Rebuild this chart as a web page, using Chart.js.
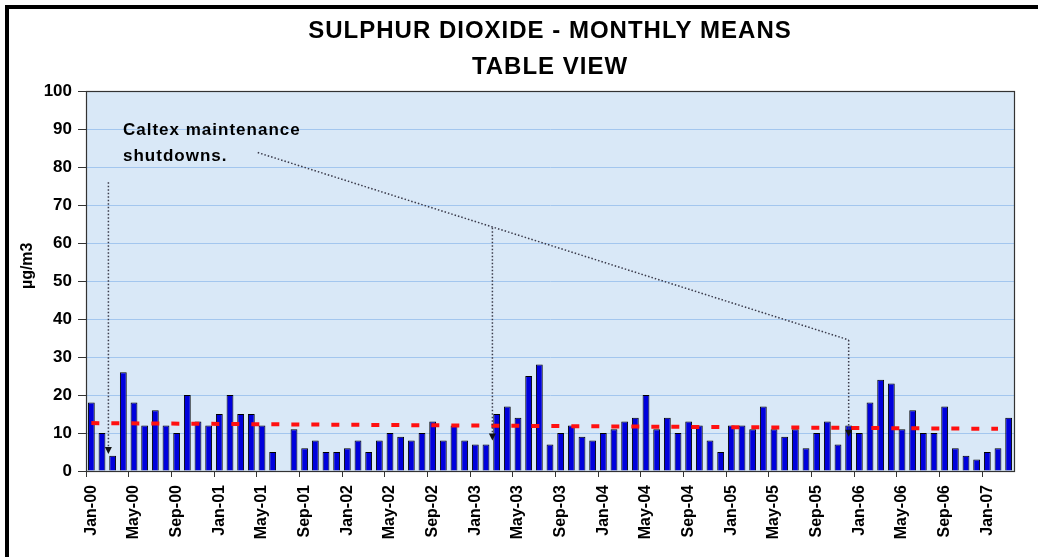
<!DOCTYPE html>
<html>
<head>
<meta charset="utf-8">
<script src="https://cdn.jsdelivr.net/npm/chart.js@4.4.1/dist/chart.umd.min.js"></script>
<style>
    html, body { margin: 0; padding: 0; background: #fff; }
</style>
</head>
<body>
<canvas id="myChart" width="1038" height="557"></canvas>
<script>

const months = ['Jan', 'Feb', 'Mar', 'Apr', 'May', 'Jun', 'Jul', 'Aug', 'Sep', 'Oct', 'Nov', 'Dec'];
const years = ['00', '01', '02', '03', '04', '05', '06', '07'];
const lastLabel = 'Mar-07';

const labels = [];
for (const y of years) {
    for (const m of months) {
        if (labels[labels.length - 1] === lastLabel) break;
        labels.push(m + '-' + y);
    }
}

// monthly means, ug/m3 (Jul-01 missing)
const so2 = [
    18, 10, 4, 26, 18, 12, 16, 12, 10, 20, 13, 12,
    15, 20, 15, 15, 12, 5, null, 11, 6, 8, 5, 5,
    6, 8, 5, 8, 10, 9, 8, 10, 13, 8, 12, 8,
    7, 7, 15, 17, 14, 25, 28, 7, 10, 12, 9, 8,
    10, 11, 13, 14, 20, 11, 14, 10, 13, 12, 8, 5,
    12, 12, 11, 17, 11, 9, 11, 6, 10, 13, 7, 12,
    10, 18, 24, 23, 11, 16, 10, 10, 17, 6, 4, 3,
    5, 6, 14
];

// red dashed mean line
const meanLine = [
    { x: 'Jan-00', y: 12.6 },
    { x: 'Feb-07', y: 11.1 },
];

const yTicks = [0, 10, 20, 30, 40, 50, 60, 70, 80, 90, 100];

// "Caltex maintenance shutdowns." arrows: category position, start value, tip value
const shutdowns = [
    { x: 1.6, top: 76, tip: 4.5 },
    { x: 37.6, top: 64, tip: 8 },
    { x: 71.0, top: 34.5, tip: 9 },
];
const leader = [{ x: 15.6, y: 83.8 }, { x: 71.0, y: 34.5 }];

const titleLines = ['SULPHUR DIOXIDE - MONTHLY MEANS', 'TABLE VIEW'];
const noteLines = ['Caltex maintenance', 'shutdowns.'];

const FONT = "'Liberation Sans', Arial, sans-serif";

const decor = {
    id: 'decor',
    beforeDraw(chart) {
        const { ctx, chartArea: a } = chart;
        ctx.save();
        ctx.fillStyle = '#fff';
        ctx.fillRect(0, 0, chart.width, chart.height);
        ctx.fillStyle = '#d9e8f7';
        ctx.fillRect(a.left, a.top, a.right - a.left, a.bottom - a.top);
        ctx.restore();
    },
    afterDatasetsDraw(chart) {
        const { ctx, chartArea: a, scales } = chart;
        const xs = scales.x, ys = scales.y;
        ctx.save();

        // dotted leader + arrows
        ctx.strokeStyle = '#3a3a4a';
        ctx.lineWidth = 1.5;
        ctx.setLineDash([1.5, 2]);
        ctx.beginPath();
        ctx.moveTo(xs.getPixelForValue(leader[0].x), ys.getPixelForValue(leader[0].y));
        ctx.lineTo(xs.getPixelForValue(leader[1].x), ys.getPixelForValue(leader[1].y));
        shutdowns.forEach(s => {
            const px = xs.getPixelForValue(s.x);
            ctx.moveTo(px, ys.getPixelForValue(s.top));
            ctx.lineTo(px, ys.getPixelForValue(s.tip) - 6);
        });
        ctx.stroke();
        ctx.setLineDash([]);
        ctx.fillStyle = '#111';
        shutdowns.forEach(s => {
            const px = xs.getPixelForValue(s.x);
            const py = ys.getPixelForValue(s.tip);
            ctx.beginPath();
            ctx.moveTo(px - 3.5, py - 7);
            ctx.lineTo(px + 3.5, py - 7);
            ctx.lineTo(px, py);
            ctx.closePath();
            ctx.fill();
        });

        // plot frame
        ctx.strokeStyle = '#333';
        ctx.lineWidth = 1.2;
        ctx.strokeRect(a.left + 0.5, a.top + 0.5, a.right - a.left, a.bottom - a.top);
        ctx.restore();
    },
    afterDraw(chart) {
        const { ctx, chartArea: a, scales } = chart;
        ctx.save();

        // outer frame (top & left only, the rest is cropped)
        ctx.fillStyle = '#000';
        ctx.fillRect(5, 5, chart.width, 4);
        ctx.fillRect(5, 5, 4, chart.height);

        ctx.fillStyle = '#000';
        ctx.textAlign = 'center';
        ctx.textBaseline = 'alphabetic';
        ctx.font = 'bold 24px ' + FONT;
        ctx.letterSpacing = '1px';
        const cx = (a.left + a.right) / 2;
        ctx.fillText(titleLines[0], cx, 38);
        ctx.fillText(titleLines[1], cx, 74);

        ctx.textAlign = 'left';
        ctx.font = 'bold 17px ' + FONT;
        ctx.letterSpacing = '1px';
        ctx.fillText(noteLines[0], 123, 135);
        ctx.fillText(noteLines[1], 123, 161);

        // y axis title
        ctx.letterSpacing = '0px';
        ctx.font = 'bold 16px ' + FONT;
        ctx.translate(32, scales.y.getPixelForValue(54));
        ctx.rotate(-Math.PI / 2);
        ctx.textAlign = 'center';
        ctx.fillText('\u00b5g/m3', 0, 0);
        ctx.restore();
    }
};

const data = {
    labels: labels,
    datasets: [{
        type: 'line',
        label: 'Mean',
        data: meanLine,
        borderColor: '#ff1010',
        borderWidth: 4,
        borderDash: [8, 12],
        pointRadius: 0,
        fill: false,
        order: 0,
    }, {
        type: 'bar',
        label: 'SO2',
        data: so2,
        backgroundColor: '#0000dc',
        borderColor: '#000',
        borderWidth: 1,
        barPercentage: 0.64,
        categoryPercentage: 1.0,
        order: 1,
    }]
};

const config = {
    data: data,
    options: {
        responsive: false,
        animation: false,
        layout: {
            padding: { left: 10, top: 91, right: 24, bottom: 0 },
        },
        plugins: {
            legend: { display: false },
            tooltip: { enabled: false },
            title: { display: false },
        },
        scales: {
            x: {
                type: 'category',
                offset: true,
                afterFit: (s) => { s.height = 86; },
                grid: {
                    offset: true,
                    drawOnChartArea: false,
                    tickLength: 6,
                    tickColor: (c) => (c.index % 4 === 0 ? '#333' : 'rgba(0,0,0,0)'),
                },
                border: { display: true, color: '#333' },
                ticks: {
                    autoSkip: false,
                    maxRotation: 90,
                    minRotation: 90,
                    padding: 8,
                    color: '#000',
                    font: { family: FONT, size: 16, weight: 'bold' },
                    callback: function (v, i) { return i % 4 === 0 ? this.getLabelForValue(v) : ''; },
                },
            },
            y: {
                min: 0,
                max: 100,
                afterFit: (s) => { s.width = 76; },
                afterBuildTicks: (s) => { s.ticks = yTicks.map(v => ({ value: v })); },
                grid: {
                    color: '#a3c6ee',
                    tickColor: '#333',
                    tickLength: 8,
                },
                border: { display: true, color: '#333' },
                ticks: {
                    padding: 6,
                    color: '#000',
                    font: { family: FONT, size: 17, weight: 'bold' },
                },
            },
        }
    },
    plugins: [decor]
};

const myChart = new Chart(
    document.getElementById('myChart'),
    config
);
</script>
</body>
</html>
